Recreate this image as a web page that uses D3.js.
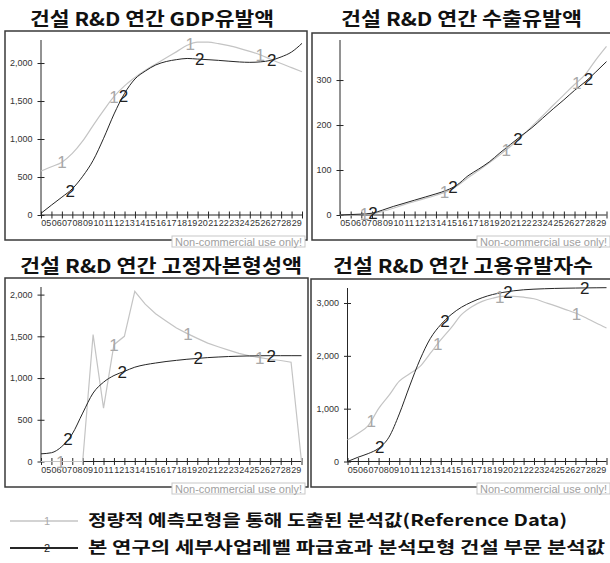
<!DOCTYPE html>
<meta charset="utf-8">
<style>
body { margin: 0; background: #fff; }
text { font-family: "Liberation Sans", Arial, sans-serif; }
.kr { font-family: "Noto Sans CJK KR", sans-serif; font-weight: bold; }
</style>
<body>
<script src="https://cdn.jsdelivr.net/npm/d3@7/dist/d3.min.js"></script>
<script>

    // year tick labels (26 data points, 2005..2030, 25 labels between ticks)
    var tickLabels = ["05","06","07","08","09","10","11","12","13","14","15","16","17",
                      "18","19","20","21","22","23","24","25","26","27","28","29"];

    var titles = ["건설 R&D 연간 GDP유발액", "건설 R&D 연간 수출유발액",
                  "건설 R&D 연간 고정자본형성액", "건설 R&D 연간 고용유발자수"];

    // series 1 = reference data (gray), series 2 = model (black)
    var gdpRef   = [579, 635, 695, 810, 975, 1180, 1376, 1560, 1700, 1810, 1904, 1987, 2069,
                    2150, 2233, 2275, 2274, 2255, 2228, 2193, 2154, 2108, 2050, 1993, 1940, 1886];
    var gdpModel = [22, 130, 235, 345, 510, 720, 1010, 1330, 1600, 1790, 1895, 1975, 2020,
                    2045, 2060, 2052, 2044, 2035, 2024, 2014, 2009, 2015, 2035, 2080, 2145, 2259];

    var expRef   = [0, 0, 1, 3, 8, 15, 23, 30, 37, 44, 52, 65, 83,
                    99, 116, 134, 153, 174, 197, 220, 244, 267, 290, 312, 345, 375];
    var expModel = [0, 1, 2, 4, 11, 19, 26, 33, 40, 47, 55, 67, 87,
                    102, 118, 138, 157, 176, 194, 215, 236, 256, 277, 296, 318, 341];

    var capRef   = [0, 0, 0, 0, 0, 1520, 640, 1400, 1500, 2040, 1885, 1770, 1685,
                    1600, 1535, 1475, 1418, 1375, 1335, 1295, 1265, 1245, 1225, 1210, 1190, 0];
    var capModel = [92, 105, 180, 330, 580, 820, 950, 1030, 1080, 1130, 1160, 1180, 1198,
                    1212, 1225, 1235, 1245, 1252, 1258, 1262, 1265, 1267, 1268, 1268, 1268, 1268];

    var empRef   = [411, 530, 680, 1000, 1250, 1520, 1660, 1800, 2050, 2300, 2530, 2780, 2930,
                    3030, 3090, 3125, 3125, 3110, 3080, 3015, 2950, 2880, 2810, 2720, 2620, 2527];
    var empModel = [0, 80, 150, 250, 460, 900, 1430, 1930, 2330, 2590, 2780, 2920, 3020,
                    3100, 3160, 3200, 3230, 3250, 3262, 3270, 3276, 3280, 3283, 3286, 3288, 3290];

    var yTicks = [[0, 500, 1000, 1500, 2000], [0, 100, 200, 300],
                  [0, 500, 1000, 1500, 2000], [0, 1000, 2000, 3000]];
    var yTops = [2303, 389, 2091, 3284];

    // where the "1" / "2" line markers sit (in year-index units)
    var refMarks   = [[2, 7, 14.3, 21], [2.3, 9.8, 15.6, 22.2], [1.9, 7, 14.1, 21], [2.3, 8.7, 14.7, 22.1]];
    var modelMarks = [[2.8, 7.9, 15.2, 22.1], [3.1, 10.6, 16.7, 23.3], [2.6, 7.8, 15.1, 22.1], [3.1, 9.4, 15.5, 22.9]];

    var refSeries = [gdpRef, expRef, capRef, empRef];
    var modelSeries = [gdpModel, expModel, capModel, empModel];

    var legendLabels = ["정량적 예측모형을 통해 도출된 분석값(Reference Data)",
                        "본 연구의 세부사업레벨 파급효과 분석모형 건설 부문 분석값"];

    var w = 610, h = 563;
    var gray = "#c4c4c4", dark = "#262626";

    var svg = d3.select("body").append("svg")
            .attr("width", w)
            .attr("height", h);

    // panel layout
    var layout = [
        {frame: [5, 31, 307, 240], left: 41, right: 302, top: 40, zero: 215, tx: 152, ty: 26, tw: 244, wx: 172, wy: 236},
        {frame: [312, 33, 613, 240], left: 340, right: 606.5, top: 40, zero: 215, tx: 461.5, ty: 26, tw: 241, wx: 477, wy: 236},
        {frame: [5, 278, 308, 487], left: 41, right: 301.5, top: 287, zero: 461.5, tx: 161, ty: 273, tw: 282, wx: 172, wy: 483},
        {frame: [311, 279, 613, 487], left: 347.5, right: 606.5, top: 288, zero: 461.5, tx: 463, ty: 273, tw: 260, wx: 477, wy: 483}
    ];

    layout.forEach(function(p, i) {

        var g = svg.append("g");

        g.append("text")
            .attr("class", "kr")
            .attr("x", p.tx)
            .attr("y", p.ty)
            .attr("text-anchor", "middle")
            .attr("font-size", 19)
            .attr("textLength", p.tw)
            .attr("lengthAdjust", "spacingAndGlyphs")
            .attr("fill", "#111")
            .text(titles[i]);

        g.append("rect")
            .attr("x", p.frame[0])
            .attr("y", p.frame[1])
            .attr("width", p.frame[2] - p.frame[0])
            .attr("height", p.frame[3] - p.frame[1])
            .attr("fill", "none")
            .attr("stroke", "#3a3a3a")
            .attr("stroke-width", 1.5);

        var x = d3.scaleLinear().domain([0, 25]).range([p.left, p.right]);
        var y = d3.scaleLinear().domain([0, yTops[i]]).range([p.zero, p.top]);

        // y axis with cross ticks
        var yAxis = g.append("g")
            .attr("transform", "translate(" + p.left + ",0)")
            .call(d3.axisLeft(y).tickValues(yTicks[i]).tickSize(3.5).tickPadding(5)
                .tickFormat(d3.format(",")));
        yAxis.select(".domain").attr("d", "M0," + p.zero + "V" + p.top).attr("stroke", dark);
        yAxis.selectAll(".tick line").attr("x1", 3.5).attr("x2", -3.5).attr("stroke", dark);
        yAxis.selectAll(".tick text").attr("font-size", 9).attr("fill", "#333")
            .attr("font-family", "Liberation Sans, Arial, sans-serif");

        // x axis: ticks at every point, labels between ticks
        var xAxis = g.append("g")
            .attr("transform", "translate(0," + p.zero + ")")
            .call(d3.axisBottom(x).tickValues(d3.range(26)).tickSize(3.5).tickFormat(""));
        xAxis.select(".domain").attr("d", "M" + p.left + ",0H" + p.right).attr("stroke", dark);
        xAxis.selectAll(".tick line").attr("y1", -3.5).attr("y2", 3.5).attr("stroke", dark);

        g.selectAll(".xlab")
            .data(tickLabels)
            .enter().append("text")
            .attr("class", "xlab")
            .attr("x", function(d, j) { return x(j + 0.5); })
            .attr("y", p.zero + 11)
            .attr("text-anchor", "middle")
            .attr("font-size", 9)
            .attr("fill", "#333")
            .text(function(d) { return d; });

        // capital formation reference data is drawn as straight segments
        var refLine = d3.line()
            .x(function(d, j) { return x(j); })
            .y(function(d) { return y(d); })
            .curve(i === 2 ? d3.curveLinear : d3.curveMonotoneX);
        var modelLine = d3.line()
            .x(function(d, j) { return x(j); })
            .y(function(d) { return y(d); })
            .curve(d3.curveMonotoneX);

        g.append("path")
            .attr("d", refLine(refSeries[i]))
            .attr("fill", "none")
            .attr("stroke", gray)
            .attr("stroke-width", 1.2);

        g.append("path")
            .attr("d", modelLine(modelSeries[i]))
            .attr("fill", "none")
            .attr("stroke", dark)
            .attr("stroke-width", 1);

        function valueAt(series, k) {
            var a = Math.floor(k), b = Math.min(a + 1, series.length - 1), t = k - a;
            return series[a] * (1 - t) + series[b] * t;
        }

        g.selectAll(".m1")
            .data(refMarks[i])
            .enter().append("text")
            .attr("class", "m1")
            .attr("x", function(k) { return x(k); })
            .attr("y", function(k) { return y(valueAt(refSeries[i], k)); })
            .attr("dy", "0.36em")
            .attr("text-anchor", "middle")
            .attr("font-size", 17)
            .attr("fill", "#a8a8a8")
            .text("1");

        g.selectAll(".m2")
            .data(modelMarks[i])
            .enter().append("text")
            .attr("class", "m2")
            .attr("x", function(k) { return x(k); })
            .attr("y", function(k) { return y(valueAt(modelSeries[i], k)); })
            .attr("dy", "0.36em")
            .attr("text-anchor", "middle")
            .attr("font-size", 17)
            .attr("fill", "#222")
            .text("2");

        // watermark
        g.append("rect")
            .attr("x", p.wx)
            .attr("y", p.wy)
            .attr("width", 133)
            .attr("height", 11)
            .attr("fill", "#fff")
            .attr("stroke", "#c8c8c8")
            .attr("stroke-width", 1);
        g.append("text")
            .attr("x", p.wx + 3)
            .attr("y", p.wy + 9.5)
            .attr("font-size", 11)
            .attr("textLength", 127)
            .attr("lengthAdjust", "spacingAndGlyphs")
            .attr("fill", "#a0a0a0")
            .text("Non-commercial use only!");
    });

    // legend
    var legend = svg.append("g");
    var legY = [521, 548];
    var legColors = [gray, dark];
    var legNums = ["1", "2"];
    var legWidths = [479, 517];

    legY.forEach(function(ly, i) {
        legend.append("line")
            .attr("x1", 10).attr("x2", 78)
            .attr("y1", ly).attr("y2", ly)
            .attr("stroke", legColors[i])
            .attr("stroke-width", i === 0 ? 1.5 : 1.8);
        legend.append("text")
            .attr("x", 47).attr("y", ly + 4)
            .attr("text-anchor", "middle")
            .attr("font-size", 11)
            .attr("fill", i === 0 ? "#aaa" : "#222")
            .text(legNums[i]);
        legend.append("text")
            .attr("class", "kr")
            .attr("x", 88).attr("y", ly + 4.5)
            .attr("font-size", 16)
            .attr("textLength", legWidths[i])
            .attr("lengthAdjust", "spacingAndGlyphs")
            .attr("fill", "#111")
            .text(legendLabels[i]);
    });

</script>
